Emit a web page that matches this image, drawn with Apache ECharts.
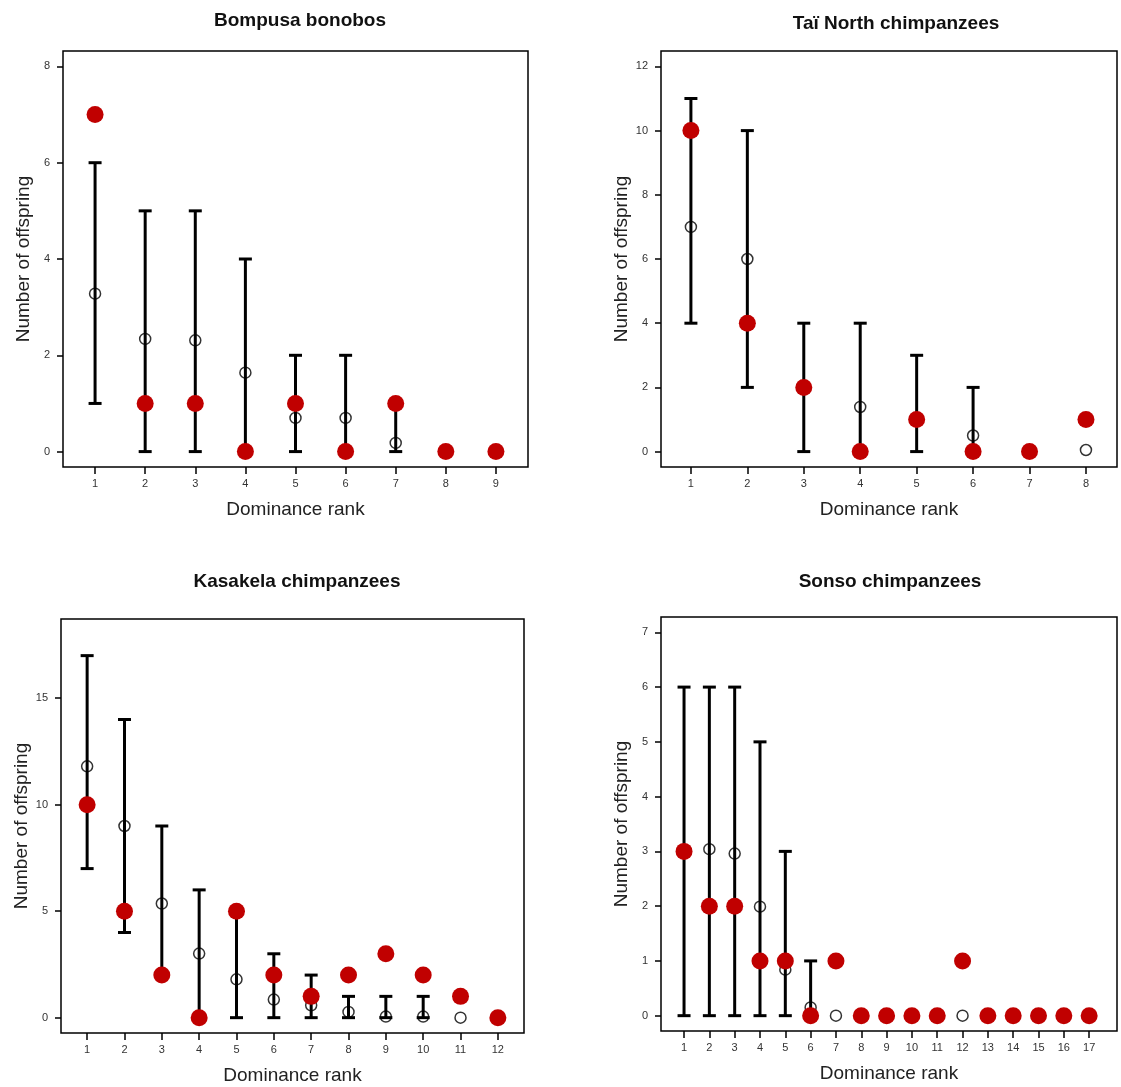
<!DOCTYPE html>
<html>
<head>
<meta charset="utf-8">
<script src="https://cdn.jsdelivr.net/npm/echarts@6/dist/echarts.min.js"></script>
<style>
html,body{margin:0;padding:0;background:#fff;}
#chart{width:1121px;height:1087px;}
</style>
</head>
<body>
<div id="chart"></div>
<script>
// ---------- DATA ----------
const titles = ["Bompusa bonobos", "Taï North chimpanzees", "Kasakela chimpanzees", "Sonso chimpanzees"];
const xTitle = "Dominance rank";
const yTitle = "Number of offspring";

// Bompusa bonobos
const bompusaRanks    = [1, 2, 3, 4, 5, 6, 7, 8, 9];
const bompusaObserved = [7, 1, 1, 0, 1, 0, 1, 0, 0];
const bompusaExpected = [3.28, 2.34, 2.31, 1.64, 0.70, 0.70, 0.18, 0, 0];
const bompusaLower    = [1, 0, 0, 0, 0, 0, 0, null, null];
const bompusaUpper    = [6, 5, 5, 4, 2, 2, 1, null, null];
const bompusaYTicks   = [0, 2, 4, 6, 8];

// Taï North chimpanzees
const taiRanks    = [1, 2, 3, 4, 5, 6, 7, 8];
const taiObserved = [10, 4, 2, 0, 1, 0, 0, 1];
const taiExpected = [7.0, 6.0, 2.0, 1.39, 1.0, 0.5, 0, 0.05];
const taiLower    = [4, 2, 0, 0, 0, 0, null, null];
const taiUpper    = [11, 10, 4, 4, 3, 2, null, null];
const taiYTicks   = [0, 2, 4, 6, 8, 10, 12];

// Kasakela chimpanzees
const kasRanks    = [1, 2, 3, 4, 5, 6, 7, 8, 9, 10, 11, 12];
const kasObserved = [10, 5, 2, 0, 5, 2, 1, 2, 3, 2, 1, 0];
const kasExpected = [11.8, 9.0, 5.36, 3.01, 1.80, 0.85, 0.58, 0.27, 0.05, 0.05, 0, 0];
const kasLower    = [7, 4, 2, 0, 0, 0, 0, 0, 0, 0, null, null];
const kasUpper    = [17, 14, 9, 6, 5, 3, 2, 1, 1, 1, null, null];
const kasYTicks   = [0, 5, 10, 15];

// Sonso chimpanzees
const sonRanks    = [1, 2, 3, 4, 5, 6, 7, 8, 9, 10, 11, 12, 13, 14, 15, 16, 17];
const sonObserved = [3, 2, 2, 1, 1, 0, 1, 0, 0, 0, 0, 1, 0, 0, 0, 0, 0];
const sonExpected = [3.0, 3.04, 2.96, 1.99, 0.84, 0.15, 0, 0, 0, 0, 0, 0, 0, 0, 0, 0, 0];
const sonLower    = [0, 0, 0, 0, 0, 0, null, null, null, null, null, null, null, null, null, null, null];
const sonUpper    = [6, 6, 6, 5, 3, 1, null, null, null, null, null, null, null, null, null, null, null];
const sonYTicks   = [0, 1, 2, 3, 4, 5, 6, 7];

// ---------- LAYOUT ----------
const panels = [
  {ranks: bompusaRanks, obs: bompusaObserved, exp: bompusaExpected, lo: bompusaLower, hi: bompusaUpper, yTicks: bompusaYTicks,
   grid: {left: 63, top: 51, width: 465, height: 416}, xMin: 0.36, xMax: 9.64, yMin: -0.32, yMax: 8.32, titleX: 295, titleY: 6},
  {ranks: taiRanks, obs: taiObserved, exp: taiExpected, lo: taiLower, hi: taiUpper, yTicks: taiYTicks,
   grid: {left: 661, top: 51, width: 456, height: 416}, xMin: 0.47, xMax: 8.55, yMin: -0.48, yMax: 12.48, titleX: 891, titleY: 9},
  {ranks: kasRanks, obs: kasObserved, exp: kasExpected, lo: kasLower, hi: kasUpper, yTicks: kasYTicks,
   grid: {left: 61, top: 619, width: 463, height: 414}, xMin: 0.30, xMax: 12.70, yMin: -0.72, yMax: 18.72, titleX: 292, titleY: 567},
  {ranks: sonRanks, obs: sonObserved, exp: sonExpected, lo: sonLower, hi: sonUpper, yTicks: sonYTicks,
   grid: {left: 661, top: 617, width: 456, height: 414}, xMin: 0.09, xMax: 18.10, yMin: -0.28, yMax: 7.28, titleX: 885, titleY: 567}
];

const FONT = "'Liberation Sans', Arial, sans-serif";
const RED = '#C00000';

const option = {
  backgroundColor: '#fff',
  animation: false,
  title: panels.map((p, i) => ({
    text: titles[i], left: p.titleX, top: p.titleY, textAlign: 'center',
    textStyle: {fontFamily: FONT, fontSize: 19, fontWeight: 'bold', color: '#111'}
  })),
  grid: panels.map(p => Object.assign({show: true, borderColor: '#000', borderWidth: 1.5, backgroundColor: 'transparent', containLabel: false}, p.grid)),
  xAxis: panels.map((p, i) => ({
    type: 'value', gridIndex: i, min: p.xMin, max: p.xMax, position: 'bottom',
    name: xTitle, nameLocation: 'middle', nameGap: 33,
    nameTextStyle: {fontFamily: FONT, fontSize: 19, color: '#222'},
    axisLine: {show: false, onZero: false},
    axisTick: {show: true, inside: false, length: 7, lineStyle: {color: '#000', width: 1.5}, customValues: p.ranks},
    axisLabel: {fontFamily: FONT, fontSize: 11, color: '#333', margin: 11, customValues: p.ranks, formatter: v => String(v)},
    splitLine: {show: false}
  })),
  yAxis: panels.map((p, i) => ({
    type: 'value', gridIndex: i, min: p.yMin, max: p.yMax, position: 'left',
    name: yTitle, nameLocation: 'middle', nameGap: 30, nameRotate: 90,
    nameTextStyle: {fontFamily: FONT, fontSize: 19, color: '#222'},
    axisLine: {show: false, onZero: false},
    axisTick: {show: true, inside: false, length: 6, lineStyle: {color: '#000', width: 1.5}, customValues: p.yTicks},
    axisLabel: {fontFamily: FONT, fontSize: 11, color: '#333', margin: 13, customValues: p.yTicks, formatter: v => String(v)},
    splitLine: {show: false}
  })),
  series: []
};

panels.forEach((p, i) => {
  option.series.push({
    type: 'custom', xAxisIndex: i, yAxisIndex: i, z: 1, silent: true,
    data: p.ranks.map((r, k) => [r, p.lo[k], p.hi[k]]),
    renderItem: function (params, api) {
      const x = api.value(0), lo = api.value(1), hi = api.value(2);
      if (lo == null || hi == null || isNaN(lo) || isNaN(hi)) return null;
      const a = api.coord([x, lo]), b = api.coord([x, hi]);
      const hw = 6.5;
      const st = {stroke: '#000', lineWidth: 3};
      return {type: 'group', children: [
        {type: 'line', shape: {x1: a[0], y1: a[1], x2: b[0], y2: b[1]}, style: st},
        {type: 'line', shape: {x1: a[0] - hw, y1: a[1], x2: a[0] + hw, y2: a[1]}, style: st},
        {type: 'line', shape: {x1: b[0] - hw, y1: b[1], x2: b[0] + hw, y2: b[1]}, style: st}
      ]};
    }
  });
  option.series.push({
    type: 'scatter', xAxisIndex: i, yAxisIndex: i, z: 2, silent: true,
    symbol: 'circle', symbolSize: 11,
    itemStyle: {color: 'rgba(0,0,0,0)', borderColor: '#000', borderWidth: 1.5},
    data: p.ranks.map((r, k) => [r, p.exp[k]])
  });
  option.series.push({
    type: 'scatter', xAxisIndex: i, yAxisIndex: i, z: 3, silent: true,
    symbol: 'circle', symbolSize: 17,
    itemStyle: {color: RED, opacity: 1},
    data: p.ranks.map((r, k) => [r, p.obs[k]])
  });
});

const chart = echarts.init(document.getElementById('chart'), null, {renderer: 'canvas'});
chart.setOption(option);
</script>
</body>
</html>
